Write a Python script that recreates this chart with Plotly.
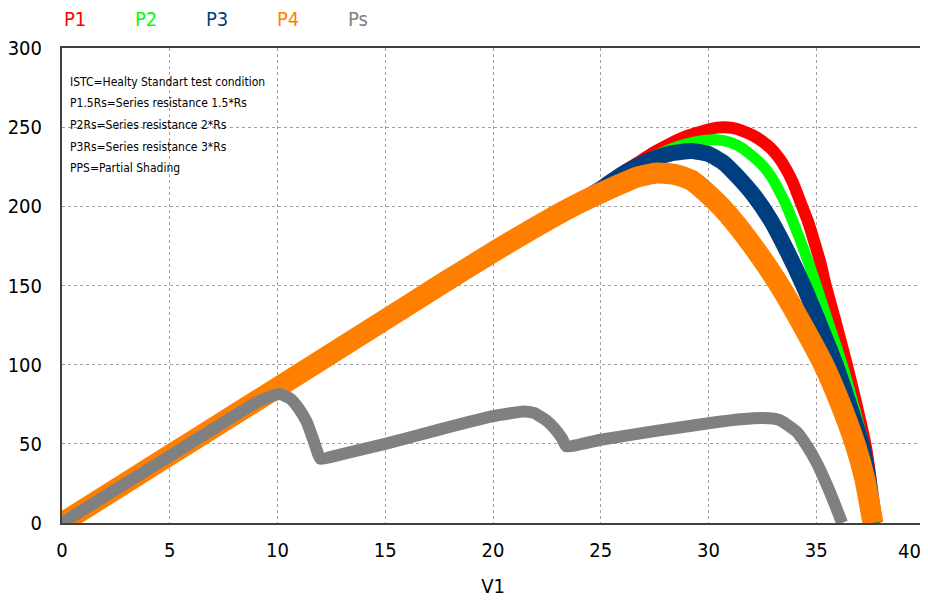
import plotly.graph_objects as go

# ---------------- data ----------------
v_p1 = [0, 2.5, 5, 7.5, 10, 12.5, 15, 17.5, 20, 22.5, 24, 25, 25.9, 26.7, 27.45, 28.2, 29, 29.6, 30, 30.4, 30.7,
        31.1, 31.6, 32.1, 32.5, 32.9, 33.3, 33.6, 33.9, 34.26, 34.6, 34.9, 35.2, 35.42, 35.9, 36.42, 36.85, 37.28, 37.5, 37.7]
p_p1 = [0, 21.4, 42.8, 64.2, 85.5, 107, 128.5, 150, 171, 191.5, 203, 212, 220.5, 227.5, 234, 239.5, 244.5, 247, 248.5, 249.7, 250,
        249.5, 247.5, 244.5, 241, 236.5, 230, 223.5, 215.5, 203, 191, 178, 164, 151, 127, 100, 76, 50, 30, 0]

v_p2 = [0, 2.5, 5, 7.5, 10, 12.5, 15, 17.5, 20, 22.5, 24, 25, 25.9, 26.7, 27.45, 28.3, 29, 29.7, 30.4, 31.0, 31.6,
        32.1, 32.5, 32.9, 33.25, 33.6, 33.9, 34.26, 34.6, 35.0, 35.6, 36.2, 36.7, 37.2, 37.45, 37.7]
p_p2 = [0, 21.4, 42.8, 64.2, 85.5, 107, 128.5, 150, 171, 191.5, 203, 211.5, 219.5, 226, 231.5, 236.5, 239.5, 241.5, 242, 240.5, 236.5,
        231, 226, 219, 210.5, 201, 191, 178.5, 166, 150, 125, 100, 76, 50, 29, 0]

v_p3 = [0, 2.5, 5, 7.5, 10, 12.5, 15, 17.5, 20, 22.5, 24, 25, 25.9, 26.7, 27.45, 28.3, 29.2, 30.0, 30.7, 31.3, 32.1,
        32.9, 33.6, 34.4, 35.2, 35.9, 36.5, 37.1, 37.4, 37.7]
p_p3 = [0, 21.4, 42.8, 64.2, 85.5, 107, 128.5, 150, 171, 191.5, 203, 211, 219.5, 225.5, 230, 233.5, 235, 233, 227.5, 219.5, 207,
        191, 173, 150, 124, 100, 76, 50, 30, 0]

v_p4 = [0, 2.5, 5, 7.5, 10, 12.5, 15, 17.5, 20, 22.5, 24, 25, 25.9, 26.7, 27.6, 28.5, 29.2, 30.0, 30.6, 31.3, 32.0,
        32.7, 33.5, 34.4, 35.34, 36.1, 36.8, 37.25, 37.63]
p_p4 = [0, 21.4, 42.8, 64.2, 85.5, 107, 128.5, 150, 171, 191, 202, 208.5, 214, 218.5, 221, 220, 216.5, 207.5, 199.5, 188.5, 176,
        162.5, 145.5, 124, 100, 76, 50, 28, 0]

v_ps = [0, 2.5, 5, 7.5, 9, 9.6, 10.1, 10.6, 11.0, 11.35, 11.65, 11.9, 12.0, 13, 15, 17.5, 20, 20.8, 21.4, 21.9, 22.5,
        22.9, 23.2, 23.4, 25, 27.5, 30, 31.5, 32.55, 33.3, 34.1, 34.6, 35.0, 35.3, 35.65, 36.0, 36.2]
p_ps = [0, 21.2, 42.3, 63.5, 76, 79.5, 81.5, 78.5, 72, 64, 53, 43, 40.5, 43.5, 50, 59, 67.5, 69.3, 70.5, 69.5, 64.5,
        59, 53.5, 48.5, 52.6, 58, 63, 65.5, 66.3, 65, 57.5, 48, 38.5, 30, 19, 7, 0]

series_names = ["P1", "P2", "P3", "P4", "Ps"]
series_colors = ["#FF0000", "#00FF00", "#003F7F", "#FF8000", "#808080"]
series_widths = [12, 11, 16, 21, 12]
series_v = [v_p1, v_p2, v_p3, v_p4, v_ps]
series_p = [p_p1, p_p2, p_p3, p_p4, p_ps]

x_ticks = [0, 5, 10, 15, 20, 25, 30, 35, 40]
y_ticks = [0, 50, 100, 150, 200, 250, 300]

note_lines = [
    "ISTC=Healty Standart test condition",
    "P1.5Rs=Series resistance 1.5*Rs",
    "P2Rs=Series resistance 2*Rs",
    "P3Rs=Series resistance 3*Rs",
    "PPS=Partial Shading",
]

FONT = "DejaVu Sans Condensed, Liberation Sans Narrow, Arial Narrow, Liberation Sans, sans-serif"

# the page body has an 8px margin; work in window pixels and convert
OFF = 8
FIG_W, FIG_H = 928 - OFF, 606 - OFF
L, R, T, B = 62, 924, 48, 523          # plot area in window pixels
W, H = R - L, B - T

fig = go.Figure()
for name, col, w, xs, ys in zip(series_names, series_colors, series_widths, series_v, series_p):
    fig.add_trace(go.Scatter(x=xs, y=ys, mode="lines", name=name,
                             line=dict(color=col, width=w, shape="spline", smoothing=0.5),
                             showlegend=False))

def px2paper(px, py):
    return (px - L) / W, (B - py) / H

# legend as coloured labels at top (left edges)
legend_x = [62, 133, 204, 275, 346]
for name, col, px in zip(series_names, series_colors, legend_x):
    xx, yy = px2paper(px, 19.5)
    fig.add_annotation(x=xx, y=yy, xref="paper", yref="paper",
                       text=name, showarrow=False, xanchor="left", yanchor="middle",
                       font=dict(family=FONT, size=20, color=col))

# notes block
note_y = [81.7, 103.3, 125, 146.7, 168.3]
for txt, py in zip(note_lines, note_y):
    xx, yy = px2paper(68, py)
    fig.add_annotation(x=xx, y=yy, xref="paper", yref="paper",
                       text=txt, showarrow=False, xanchor="left", yanchor="middle",
                       font=dict(family=FONT, size=12, color="#000000"))

# last x tick label sits inside the picture edge
xx, yy = px2paper(923, 551)
fig.add_annotation(x=xx, y=yy, xref="paper", yref="paper", text=str(x_ticks[-1]),
                   showarrow=False, xanchor="right", yanchor="middle",
                   font=dict(family=FONT, size=20, color="#000000"))

fig.update_layout(
    width=FIG_W, height=FIG_H,
    margin=dict(l=L - OFF, r=928 - R, t=T - OFF, b=606 - B),
    paper_bgcolor="white", plot_bgcolor="white",
    font=dict(family=FONT, size=20, color="#000000"),
    xaxis=dict(range=[0, 40], tickvals=x_ticks,
               ticktext=[str(t) for t in x_ticks[:-1]] + [""],
               showgrid=True, gridcolor="#A0A0A0", griddash="dot", gridwidth=1,
               zeroline=False, showline=True, linecolor="#404040", linewidth=2, mirror=True,
               ticks="", ticklabelstandoff=8, automargin=False,
               title=dict(text="V1", font=dict(family=FONT, size=20), standoff=18)),
    yaxis=dict(range=[0, 300], tickvals=y_ticks, ticktext=[str(t) for t in y_ticks],
               showgrid=True, gridcolor="#A0A0A0", griddash="dot", gridwidth=1,
               zeroline=False, showline=True, linecolor="#404040", linewidth=2, mirror=True,
               ticks="", ticklabelstandoff=14, automargin=False),
)

fig.write_html("out.html")
